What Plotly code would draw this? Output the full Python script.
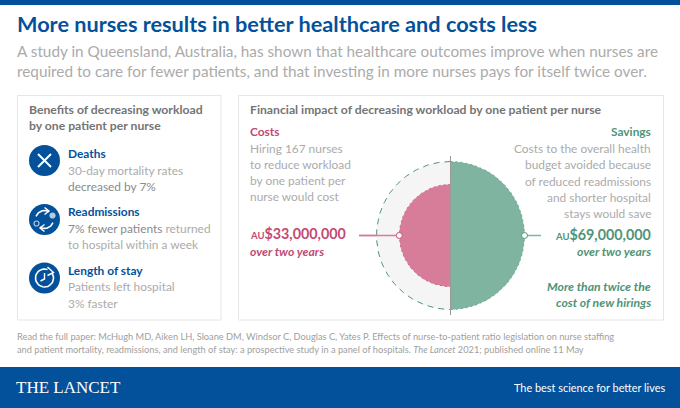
import numpy as np
import plotly.graph_objects as go

# ---- data
metric_names = ["Costs", "Savings"]
metric_values = [33, 69]  # AU$ millions
title = "More nurses results in better healthcare and costs less"
subtitle = ["A study in Queensland, Australia, has shown that healthcare outcomes improve when nurses are",
            "required to care for fewer patients, and that investing in more nurses pays for itself twice over."]
benefit_names = ["Deaths", "Readmissions", "Length of stay"]
cost_lines = ["Hiring 167 nurses", "to reduce workload", "by one patient per", "nurse would cost"]
saving_lines = ["Costs to the overall health", "budget avoided because", "of reduced readmissions",
                "and shorter hospital", "stays would save"]
footer = ["Read the full paper: McHugh MD, Aiken LH, Sloane DM, Windsor C, Douglas C, Yates P. Effects of nurse-to-patient ratio legislation on nurse staffing",
          "and patient mortality, readmissions, and length of stay: a prospective study in a panel of hospitals. <i>The Lancet</i> 2021; published online 11 May"]

BLUE = "#04519B"
GREY = "#ABABAB"
DGREY = "#747474"
PINK = "#C24A73"
FILLP = "#D77C99"
GREEN = "#4E9478"
FILLG = "#7FB5A0"
FONT = "Lato"
BODY = 11.9

fig = go.Figure()
ann = []


def T(x, y, s, size=BODY, color=GREY, anchor="left", font=FONT):
    ann.append(dict(x=x, y=y, text=s, xref="x", yref="y", xanchor=anchor, yanchor="middle", showarrow=False,
                    font=dict(size=size, color=color, family=font), borderpad=0, borderwidth=0,
                    yshift=0.8))


def rect(x0, y0, x1, y1, fill="rgba(0,0,0,0)", line="rgba(0,0,0,0)", w=1):
    fig.add_shape(type="rect", x0=x0, y0=y0, x1=x1, y1=y1, fillcolor=fill, line=dict(color=line, width=w), layer="below")


rect(0, 0, 680, 5, BLUE)
rect(0, 367, 680, 408, BLUE)
rect(17.5, 95.5, 221, 320, "white", "#E6E6E6")
rect(238.5, 95.5, 663.5, 320, "white", "#E6E6E6")

T(16.5, 25, "<b>" + title + "</b>", 21.7, BLUE)
T(17, 52, subtitle[0], 15.3)
T(17, 71.5, subtitle[1], 15.3)

T(29, 110, "<b>Benefits of decreasing workload</b>", 12.2, DGREY)
T(29, 126, "<b>by one patient per nurse</b>", 12.2, DGREY)

T(68, 154, "<b>" + benefit_names[0] + "</b>", 11.9, BLUE)
T(68, 171, "30-day mortality rates")
T(68, 187, "<span style='color:#8a8a8a'>decreased by 7%</span>")
T(68, 212, "<b>" + benefit_names[1] + "</b>", 11.9, BLUE)
T(68, 229, "<span style='color:#8a8a8a'>7% fewer patients</span> returned")
T(68, 245, "to hospital within a week")
T(68, 271, "<b>" + benefit_names[2] + "</b>", 11.9, BLUE)
T(68, 287, "Patients left hospital")
T(68, 304, "3% faster")

T(250, 110, "<b>Financial impact of decreasing workload by one patient per nurse</b>", 12.2, DGREY)
T(250, 132, "<b>" + metric_names[0] + "</b>", 11.9, PINK)
for y, s in zip([149, 165, 181, 197], cost_lines):
    T(250, y, s)
T(250, 234, "<b><span style='font-size:9.5px'>AU</span><span style='font-size:14.3px'>$%d,000,000</span></b>" % metric_values[0], 14.3, PINK)
T(250, 252, "<b><i>over two years</i></b>", 12.2, PINK)

T(651, 132, "<b>" + metric_names[1] + "</b>", 11.9, GREEN, "right")
for y, s in zip([149, 165, 182, 198, 214], saving_lines):
    T(651, y, s, BODY, GREY, "right")
T(651, 235, "<b><span style='font-size:9.5px'>AU</span><span style='font-size:14.3px'>$%d,000,000</span></b>" % metric_values[1], 14.3, GREEN, "right")
T(651, 252, "<b><i>over two years</i></b>", 12.2, GREEN, "right")
T(651, 287, "<b><i>More than twice the</i></b>", 12.2, GREEN, "right")
T(651, 303, "<b><i>cost of new hirings</i></b>", 12.2, GREEN, "right")

T(17, 337, footer[0], 9.25, "#A0A0A0")
T(17, 350, footer[1], 9.25, "#A0A0A0")
T(16, 388, "THE LANCET", 17, "white", "left", "Liberation Serif")
T(665, 388, "The best science for better lives", 10.9, "white", "right")

# ---- circles: area proportional to value
cx, cy = 450.5, 235.5
k = 74 / np.sqrt(metric_values[1])
r_cost = k * np.sqrt(metric_values[0])
r_save = k * np.sqrt(metric_values[1])


def half(r, side):
    t = np.linspace(-np.pi / 2, np.pi / 2, 120)
    return cx + side * r * np.cos(t), cy + r * np.sin(t)


fig.add_trace(go.Scatter(x=[359, cx - r_cost], y=[cy, cy], mode="lines", line=dict(color=FILLP, width=1.5)))
fig.add_trace(go.Scatter(x=[cx + r_save, 541], y=[cy, cy], mode="lines", line=dict(color=FILLG, width=1.5)))
x, y = half(r_save, -1)
fig.add_trace(go.Scatter(x=x, y=y, mode="lines", fill="toself", fillcolor="#F5F5F5",
                         line=dict(color=GREEN, width=1, dash="6px,5px")))
x, y = half(r_cost, -1)
fig.add_trace(go.Scatter(x=x, y=y, mode="lines", fill="toself", fillcolor=FILLP,
                         line=dict(color="#C9688A", width=1, dash="2px,3px")))
x, y = half(r_save, 1)
fig.add_trace(go.Scatter(x=x, y=y, mode="lines", fill="toself", fillcolor=FILLG,
                         line=dict(color="#6FA892", width=1, dash="2px,3px")))
fig.add_trace(go.Scatter(x=[359, cx - r_cost], y=[cy, cy], mode="lines", line=dict(color=FILLP, width=1.5)))
fig.add_shape(type="line", x0=cx, x1=cx, y0=156, y1=315, line=dict(color="#9A9A9A", width=1))
fig.add_trace(go.Scatter(x=[cx - r_cost], y=[cy], mode="markers",
                         marker=dict(size=6, color="white", line=dict(color=PINK, width=1))))
fig.add_trace(go.Scatter(x=[cx + r_save], y=[cy], mode="markers",
                         marker=dict(size=6, color="white", line=dict(color=GREEN, width=1))))

# ---- icons
icons = [(44.5, 160.5), (44.5, 219.5), (44.5, 278)]
for ix, iy in icons:
    fig.add_shape(type="circle", x0=ix - 15.5, x1=ix + 15.5, y0=iy - 15.5, y1=iy + 15.5,
                  fillcolor=BLUE, line=dict(width=0), layer="below")


def seg(pts, w=1.6):
    pts = np.array(pts)
    fig.add_trace(go.Scatter(x=pts[:, 0], y=pts[:, 1], mode="lines", line=dict(color="white", width=w)))


def arc(ix, iy, r, a0, a1):
    t = np.radians(np.linspace(a0, a1, 30))
    seg(np.c_[ix + r * np.cos(t), iy + r * np.sin(t)])


ix, iy = icons[0]
seg([(ix - 6.5, iy - 6.5), (ix + 6.5, iy + 6.5)], 2)
seg([(ix - 6.5, iy + 6.5), (ix + 6.5, iy - 6.5)], 2)
ix, iy = icons[1]
arc(ix, iy, 9, 200, 300)
arc(ix, iy, 9, 20, 120)
seg([(ix + 0, iy - 12), (ix + 4.5, iy - 8.5), (ix + 0, iy - 5)], 1.4)
seg([(ix + 0, iy + 12), (ix - 4.5, iy + 8.5), (ix + 0, iy + 5)], 1.4)
fig.add_trace(go.Scatter(x=[ix + 8, ix - 8], y=[iy - 4, iy + 4], mode="markers",
                         marker=dict(size=[5, 5], color=["white", BLUE], line=dict(color="white", width=1.2))))
ix, iy = icons[2]
arc(ix, iy, 9, -30, 290)
seg([(ix, iy - 5), (ix, iy + 1), (ix - 4, iy + 3)], 1.4)
seg([(ix + 3, iy - 11), (ix + 9, iy - 5.5), (ix + 3, iy - 2.5)], 1.4)

fig.update_layout(width=680, height=408, margin=dict(l=0, r=0, t=0, b=0), showlegend=False,
                  paper_bgcolor="white", plot_bgcolor="white", annotations=ann,
                  xaxis=dict(range=[0, 680], visible=False, fixedrange=True),
                  yaxis=dict(range=[408, 0], visible=False, fixedrange=True))
fig.write_html("out.html", config=dict(displayModeBar=False),
               post_script="document.body.style.margin='0';document.documentElement.style.overflow='hidden';")
